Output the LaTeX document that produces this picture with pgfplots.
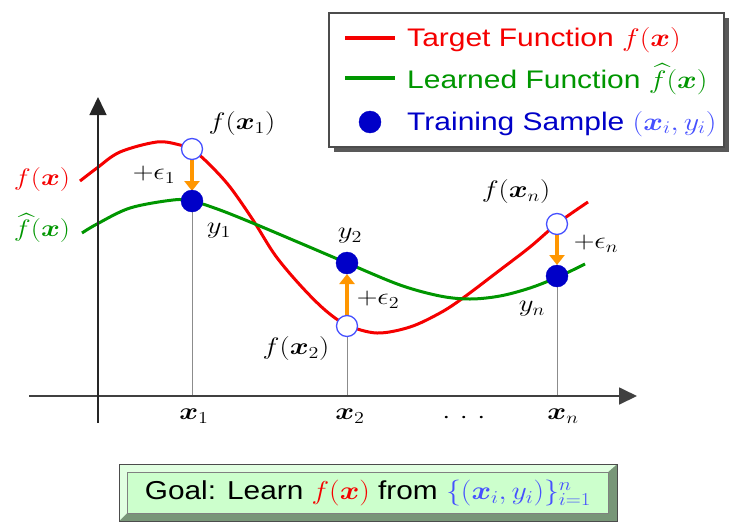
\RequirePackage{fix-cm}
\documentclass[border=0pt]{standalone}
\usepackage[no-math]{fontspec}
\usepackage{amsmath}
\usepackage{pgfplots}
\pgfplotsset{compat=1.18}
\usetikzlibrary{arrows.meta}
\newfontfamily\arial{Liberation Sans}
\definecolor{fred}{RGB}{245,0,0}
\definecolor{fgreen}{RGB}{0,150,0}
\definecolor{sblue}{RGB}{0,0,200}
\definecolor{lblue}{RGB}{70,80,255}
\definecolor{eorange}{RGB}{255,150,0}
\definecolor{goalfill}{RGB}{204,255,204}
\definecolor{goallight}{RGB}{225,255,225}
\definecolor{goaldark}{RGB}{120,150,120}
\newcommand{\bx}{\boldsymbol{x}}
\tikzset{
    lab/.style={xscale=1.2, font=\fontsize{24}{28}\selectfont},
    leg/.style={xscale=1.18, anchor=base west, inner sep=0pt, font=\arial\fontsize{25.5}{30}\selectfont},
}

\begin{document}
\begin{tikzpicture}
\begin{axis}[
    width=730bp, height=523bp, scale only axis,
    xmin=0, xmax=730, ymin=0, ymax=523,
    y dir=reverse,
    hide axis, clip=false,
]
\path (axis cs:0,0) rectangle (axis cs:730,523);

% target and learned functions
\addplot[fred, line width=3bp, smooth, tension=0.55] coordinates {
    (80,181)(97,168)(120,152)(157,142)(180,145)(193,150)(210,165)(230,187)
    (253,220)(275,255)(300,285)(325,310)(347,325)(377,333)(410,327)(440,313)
    (463,298)(500,270)(530,247)(558,223)(588,202)
};
\addplot[fgreen, line width=3bp, smooth, tension=0.55] coordinates {
    (82,233)(97,224)(130,208)(173,200)(192,201)(220,210)(255,224)(300,243)
    (347,263)(400,285)(440,296)(470,299)(500,296)(530,288)(558,277)(585,264)
};

% drop lines
\addplot[black!45, line width=0.9bp] coordinates {(192,201)(192,396)};
\addplot[black!45, line width=0.9bp] coordinates {(347,326)(347,396)};
\addplot[black!45, line width=0.9bp] coordinates {(557,276)(557,396)};

% axes
\addplot[black!75, line width=1.8bp, -{Triangle[length=18bp,width=17bp]}]
    coordinates {(29,396)(637,396)};
\addplot[black!85, line width=1.5bp, -{Triangle[length=18bp,width=17bp]}]
    coordinates {(98,423)(98,97)};

% noise arrows
\addplot[eorange, line width=4bp, -{Triangle[length=10bp,width=15bp]}]
    coordinates {(192,160)(192,191)};
\addplot[eorange, line width=4bp, -{Triangle[length=10bp,width=15bp]}]
    coordinates {(347,315)(347,274)};
\addplot[eorange, line width=4bp, -{Triangle[length=10bp,width=15bp]}]
    coordinates {(557,235)(557,265)};

% f(x_i) and samples
\addplot[only marks, mark=*, mark size=10.5bp,
    mark options={fill=white, draw=lblue, line width=1.3bp}]
    coordinates {(192,149)(347,326)(557,224)};
\addplot[only marks, mark=*, mark size=11bp,
    mark options={fill=sblue, draw=sblue}]
    coordinates {(192,201)(347,263)(557,276)};

% labels
\node[lab] at (axis cs:242,124) {$f(\bx_1)$};
\node[lab] at (axis cs:154,175) {$+\epsilon_1$};
\node[lab] at (axis cs:219,231) {$y_1$};
\node[lab] at (axis cs:350,236) {$y_2$};
\node[lab] at (axis cs:378,300) {$+\epsilon_2$};
\node[lab] at (axis cs:296,349) {$f(\bx_2)$};
\node[lab] at (axis cs:516,192) {$f(\bx_n)$};
\node[lab] at (axis cs:596,244) {$+\epsilon_n$};
\node[lab] at (axis cs:532,309) {$y_n$};
\node[lab, text=fred] at (axis cs:42,180) {$f(\bx)$};
\node[lab, text=fgreen] at (axis cs:42,228) {$\widehat{f}(\bx)$};
\node[lab] at (axis cs:194,416) {$\bx_1$};
\node[lab] at (axis cs:350,416) {$\bx_2$};
\node[lab] at (axis cs:464,418) {${\cdot}\mkern6mu{\cdot}\mkern6mu{\cdot}$};
\node[lab] at (axis cs:563,416) {$\bx_n$};

% legend
\fill[black!65] (axis cs:334,18) rectangle (axis cs:729,152);
\draw[black!70, line width=1.5bp, fill=white] (axis cs:329,13) rectangle (axis cs:724,147);
\addplot[fred, line width=3.5bp] coordinates {(345,38)(395,38)};
\addplot[fgreen, line width=3.5bp] coordinates {(345,78)(395,78)};
\addplot[only marks, mark=*, mark size=11bp, mark options={fill=sblue, draw=sblue}]
    coordinates {(370,122)};
\node[leg] at (axis cs:407,47) {\textcolor{fred}{Target Function $f(\bx)$}};
\node[leg] at (axis cs:407,88) {\textcolor{fgreen}{Learned Function $\widehat{f}(\bx)$}};
\node[leg] at (axis cs:407,130) {\textcolor{sblue}{Training Sample} \textcolor{lblue}{$(\bx_i,y_i)$}};

% goal box
\filldraw[draw=black!70, line width=1bp, fill=goaldark] (axis cs:119,464) rectangle (axis cs:617,521);
\fill[goallight] (axis cs:120,465) -- (axis cs:616,465) -- (axis cs:608,472)
    -- (axis cs:127,472) -- (axis cs:127,513) -- (axis cs:120,520) -- cycle;
\filldraw[draw=black!50, line width=0.8bp, fill=goalfill] (axis cs:127,472) rectangle (axis cs:608,513);
\node[xscale=1.15, font=\arial\fontsize{26}{30}\selectfont] at (axis cs:368,493)
    {Goal: Learn \textcolor{fred}{$f(\bx)$} from \textcolor{lblue}{$\{(\bx_i,y_i)\}_{i=1}^n$}};
\end{axis}
\end{tikzpicture}
\end{document}
